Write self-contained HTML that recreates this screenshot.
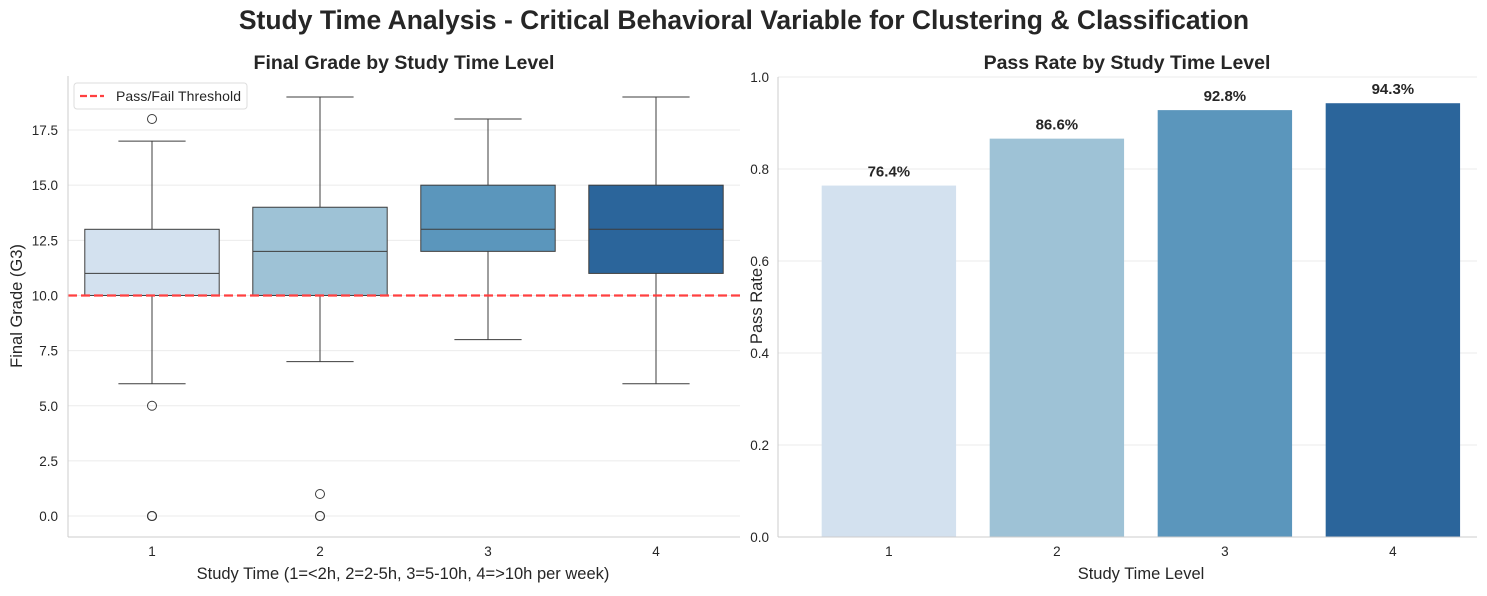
<!DOCTYPE html>
<html><head><meta charset="utf-8"><style>
body{margin:0;background:#fff;font-family:"Liberation Sans",Arial,sans-serif}
svg text{font-family:"Liberation Sans",Arial,sans-serif;fill:#262626}
</style></head><body>
<svg id="c" width="1487" height="591">
<text x="744" y="29" text-anchor="middle" font-size="26.5" font-weight="bold">Study Time Analysis - Critical Behavioral Variable for Clustering &amp; Classification</text>
<g id="L"></g><g id="R"></g>
</svg>
<script>
const boxCats=["1","2","3","4"];
const boxQ1=[10,10,12,11];
const boxMed=[11,12,13,13];
const boxQ3=[13,14,15,15];
const boxLo=[6,7,8,6];
const boxHi=[17,19,18,19];
const boxOutliers=[[18,5,0,0,0],[1,0,0],[],[]];
const leftTicks=[0,2.5,5,7.5,10,12.5,15,17.5];
const threshold=10;
const passCats=["1","2","3","4"];
const passRates=[0.764,0.866,0.928,0.943];
const rightTicks=[0,0.2,0.4,0.6,0.8,1.0];
const colors=["#d3e1ef","#9ec2d6","#5b96bc","#2b659b"];
const NS="http://www.w3.org/2000/svg";
function mk(p,t,a,txt){const e=document.createElementNS(NS,t);for(const k in a)e.setAttribute(k,a[k]);if(txt!==undefined)e.textContent=txt;p.appendChild(e);return e;}
// Left chart
const L=document.getElementById('L');
const lx0=68,lx1=740,ly0=537,ly1=76,lmin=-0.95,lmax=19.95;
const ly=v=>ly0-(v-lmin)/(lmax-lmin)*(ly0-ly1);
const lstep=(lx1-lx0)/boxCats.length;
const lx=i=>lx0+lstep*(i+0.5);
leftTicks.forEach(t=>{
 const g=mk(L,'line',{x1:lx0,x2:lx1,y1:ly(t),y2:ly(t),stroke:'#ebebeb','stroke-width':1});
 
 const tx=mk(L,'text',{x:lx0-10,y:ly(t)+5,'text-anchor':'end','font-size':13.5},t.toFixed(1));
 
});
boxCats.forEach((c,i)=>{
 const cx=lx(i),w=lstep*0.8,st='#3d3d3d';
 const g=mk(L,'g',{});
 
 mk(g,'line',{x1:cx,x2:cx,y1:ly(boxLo[i]),y2:ly(boxQ1[i]),stroke:st});
 mk(g,'line',{x1:cx,x2:cx,y1:ly(boxQ3[i]),y2:ly(boxHi[i]),stroke:st});
 mk(g,'line',{x1:cx-w/4,x2:cx+w/4,y1:ly(boxLo[i]),y2:ly(boxLo[i]),stroke:st});
 mk(g,'line',{x1:cx-w/4,x2:cx+w/4,y1:ly(boxHi[i]),y2:ly(boxHi[i]),stroke:st});
 mk(g,'rect',{x:cx-w/2,y:ly(boxQ3[i]),width:w,height:ly(boxQ1[i])-ly(boxQ3[i]),fill:colors[i],stroke:st});
 mk(g,'line',{x1:cx-w/2,x2:cx+w/2,y1:ly(boxMed[i]),y2:ly(boxMed[i]),stroke:st});
 boxOutliers[i].forEach(o=>{const e=mk(L,'circle',{cx:cx,cy:ly(o),r:4.5,fill:'none',stroke:st});
  });
 const tx=mk(L,'text',{x:cx,y:ly0+19,'text-anchor':'middle','font-size':13.5},c);
 
});
const th=mk(L,'line',{x1:lx0,x2:lx1,y1:ly(threshold),y2:ly(threshold),stroke:'#ff4040','stroke-width':2.2,'stroke-dasharray':'9,4'});

mk(L,'line',{x1:lx0,x2:lx0,y1:ly1,y2:ly0,stroke:'#ccc'});
mk(L,'line',{x1:lx0,x2:lx1,y1:ly0,y2:ly0,stroke:'#ccc'});
const lg=mk(L,'g',{});
mk(lg,'rect',{x:74,y:83,width:173,height:26,fill:'#fff',stroke:'#ddd',rx:3});
mk(lg,'line',{x1:80,x2:104,y1:96,y2:96,stroke:'#ff4040','stroke-width':2.2,'stroke-dasharray':'7,3'});
mk(lg,'text',{x:116,y:101,'font-size':14,textLength:125},'Pass/Fail Threshold');
let t=mk(L,'text',{x:404,y:69,'text-anchor':'middle','font-size':19.5,'font-weight':'bold'},'Final Grade by Study Time Level');

t=mk(L,'text',{x:403,y:579,'text-anchor':'middle','font-size':16.5},'Study Time (1=<2h, 2=2-5h, 3=5-10h, 4=>10h per week)');

t=mk(L,'text',{x:0,y:0,'text-anchor':'middle','font-size':16.5,transform:'translate(22,306) rotate(-90)'},'Final Grade (G3)');

// Right chart
const R=document.getElementById('R');
const rx0=778,rx1=1477,ry0=537,ry1=77,rstep=168,rxmin=-0.66;
const ry=v=>ry0-v/1.0*(ry0-ry1);
const rx=i=>rx0+(i-rxmin)*rstep;
rightTicks.forEach(v=>{
 const g=mk(R,'line',{x1:rx0,x2:rx1,y1:ry(v),y2:ry(v),stroke:'#ebebeb'});
 
 const tx=mk(R,'text',{x:rx0-9,y:ry(v)+5,'text-anchor':'end','font-size':13.5},v.toFixed(1));
 
});
passCats.forEach((c,i)=>{
 const cx=rx(i),w=rstep*0.8;
 const b=mk(R,'rect',{x:cx-w/2,y:ry(passRates[i]),width:w,height:ry0-ry(passRates[i]),fill:colors[i]});
 
 const l=mk(R,'text',{x:cx,y:ry(passRates[i])-9,'text-anchor':'middle','font-size':15,'font-weight':'bold'},(passRates[i]*100).toFixed(1)+'%');
 
 const tx=mk(R,'text',{x:cx,y:ry0+19,'text-anchor':'middle','font-size':13.5},c);
 
});
mk(R,'line',{x1:rx0,x2:rx0,y1:ry1,y2:ry0,stroke:'#ccc'});
mk(R,'line',{x1:rx0,x2:rx1,y1:ry0,y2:ry0,stroke:'#ccc'});
t=mk(R,'text',{x:1127,y:69,'text-anchor':'middle','font-size':19.5,'font-weight':'bold'},'Pass Rate by Study Time Level');

t=mk(R,'text',{x:1141,y:579,'text-anchor':'middle','font-size':16.5},'Study Time Level');

t=mk(R,'text',{x:0,y:0,'text-anchor':'middle','font-size':16.5,transform:'translate(762,306) rotate(-90)'},'Pass Rate');

</script>
</body></html>
